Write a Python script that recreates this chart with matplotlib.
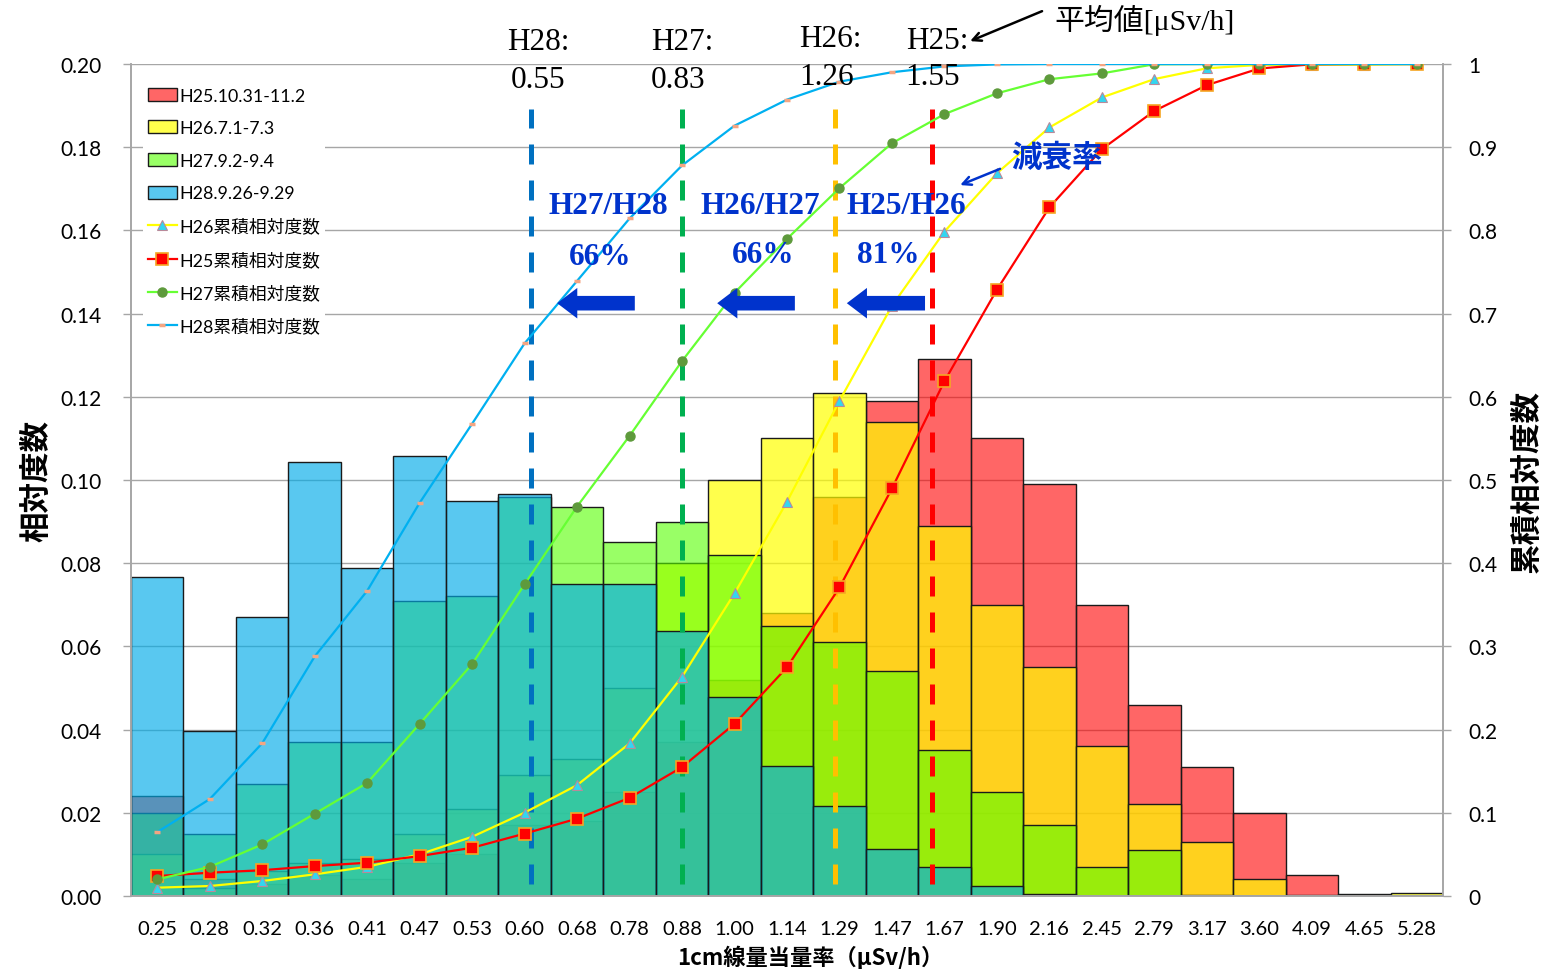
import matplotlib
matplotlib.use("Agg")
import matplotlib.pyplot as plt
import numpy as np
from matplotlib.patches import Patch
from matplotlib.ticker import FuncFormatter

# ---- data -------------------------------------------------------------
categories = ["0.25", "0.28", "0.32", "0.36", "0.41", "0.47", "0.53", "0.60",
              "0.68", "0.78", "0.88", "1.00", "1.14", "1.29", "1.47", "1.67",
              "1.90", "2.16", "2.45", "2.79", "3.17", "3.60", "4.09", "4.65",
              "5.28"]

# relative frequency per dose-rate class
h25_freq = [0.024, 0.004, 0.003, 0.005, 0.004, 0.008, 0.010, 0.017, 0.018,
            0.025, 0.037, 0.052, 0.068, 0.096, 0.119, 0.129, 0.110, 0.099,
            0.070, 0.046, 0.031, 0.020, 0.005, 0.0004, 0.0]
h26_freq = [0.010, 0.002, 0.006, 0.008, 0.009, 0.015, 0.021, 0.029, 0.033,
            0.050, 0.080, 0.100, 0.110, 0.121, 0.114, 0.089, 0.070, 0.055,
            0.036, 0.022, 0.013, 0.004, 0.0003, 0.0, 0.0008]
h27_freq = [0.020, 0.015, 0.027, 0.037, 0.037, 0.071, 0.072, 0.096, 0.0935,
            0.085, 0.090, 0.082, 0.065, 0.061, 0.054, 0.035, 0.025, 0.017,
            0.007, 0.011, 0.0003, 0.0, 0.0, 0.0, 0.0]
h28_freq = [0.0767, 0.0397, 0.0671, 0.1043, 0.0788, 0.1058, 0.0950, 0.0966,
            0.075, 0.075, 0.0637, 0.0478, 0.0313, 0.0216, 0.0113, 0.0070,
            0.0024, 0.0005, 0.0, 0.0, 0.0, 0.0, 0.0, 0.0, 0.0]

period_labels = ["H25.10.31-11.2", "H26.7.1-7.3", "H27.9.2-9.4", "H28.9.26-9.29"]
cum_labels = ["H26累積相対度数", "H25累積相対度数", "H27累積相対度数", "H28累積相対度数"]

mean_years = ["H28:", "H27:", "H26:", "H25:"]
mean_values = ["0.55", "0.83", "1.26", "1.55"]
ratio_labels = ["H27/H28", "H26/H27", "H25/H26"]
ratio_values = ["66%", "66%", "81%"]

# ---- styling ----------------------------------------------------------
plt.rcParams['font.family'] = ['Lato', 'Noto Sans CJK JP', 'DejaVu Sans']
SERIF = ['Liberation Serif', 'Noto Sans CJK JP', 'DejaVu Sans']
CJK = ['Noto Sans CJK JP', 'DejaVu Sans']
NAVY = '#0033CC'

bar_colors = [(1.0, 0.0, 0.0, 0.6),              # H25
              (1.0, 1.0, 0.0, 0.7),              # H26
              (85 / 255, 1.0, 0.0, 0.6),         # H27
              (0.0, 171 / 255, 232 / 255, 0.65)]  # H28

fig = plt.figure(figsize=(15.47, 9.70), dpi=100)
ax = fig.add_axes([131 / 1547, 73 / 970, (1443 - 131) / 1547, (897 - 65) / 970])
ax2 = ax.twinx()

x = np.arange(len(categories))

# overlapping (not stacked) histograms
for freq, col in zip([h25_freq, h26_freq, h27_freq, h28_freq], bar_colors):
    ax.bar(x, freq, width=1.0, facecolor=col, edgecolor='#1a1a1a',
           linewidth=1.0, zorder=2)

# mean-value markers
mean_x = [7.12, 10.0, 12.91, 14.76]
mean_colors = ['#0070C0', '#00B050', '#FFC000', '#FF0000']
for mx, mc in zip(mean_x, mean_colors):
    ax.axvline(mx, ymin=0.014, ymax=0.946, color=mc, lw=3.6,
               dashes=(4, 3.2), zorder=3)

ax.set_xlim(-0.5, len(categories) - 0.5)
ax.set_ylim(0, 0.20)
ax.set_yticks(np.arange(0, 0.2001, 0.02))
ax.yaxis.set_major_formatter(FuncFormatter(lambda v, p: f"{v:.2f}"))
ax.set_xticks(x)
ax.set_xticklabels(categories)
ax.set_axisbelow(True)
ax.yaxis.grid(True, color='#A6A6A6', lw=1.0)
ax.tick_params(axis='x', length=0, pad=17, labelsize=14.5)
ax.tick_params(axis='y', length=6, width=1, color='#A6A6A6', pad=15,
               labelsize=15)

# cumulative curves
cum = {k: np.cumsum(f) / np.sum(f) for k, f in
       zip(["h25", "h26", "h27", "h28"], [h25_freq, h26_freq, h27_freq, h28_freq])}

l26, = ax2.plot(x, cum["h26"], color='#FFFF00', lw=1.6, marker='^', ms=7,
                mfc='#33D6F0', mec='#B98A9A', mew=0.8, zorder=4)
l25, = ax2.plot(x, cum["h25"], color='#FF0000', lw=1.6, marker='s', ms=8,
                mfc='#FF0000', mec='#F5A623', mew=1.2, zorder=5)
l27, = ax2.plot(x, cum["h27"], color='#66FF33', lw=1.6, marker='o', ms=6.5,
                mfc='#5E9A3C', mec='#5E9A3C', zorder=6)
l28, = ax2.plot(x, cum["h28"], color='#00B0F0', lw=1.6, marker='_', ms=5,
                mew=2.5, mec='#F4A582', zorder=7)

ax2.set_ylim(0, 1)
ax2.set_yticks(np.arange(0, 1.001, 0.1))
ax2.yaxis.set_major_formatter(
    FuncFormatter(lambda v, p: "0" if abs(v) < 1e-9 else ("1" if abs(v - 1) < 1e-9 else f"{v:.1f}")))
ax2.tick_params(axis='y', length=6, width=1, color='#A6A6A6', pad=12,
                labelsize=15)

for a in (ax, ax2):
    a.spines['top'].set_visible(False)
    for s in ('left', 'right', 'bottom'):
        a.spines[s].set_color('#A6A6A6')
        a.spines[s].set_linewidth(1.2)

ax.set_ylabel("相対度数", family=CJK, fontsize=22, fontweight='bold', labelpad=6)
ax2.set_ylabel("累積相対度数", family=CJK, fontsize=22, fontweight='bold',
               rotation=90, labelpad=10)
ax.set_xlabel("1cm線量当量率（μSv/h）", family=CJK, fontsize=16,
              fontweight='bold')
ax.xaxis.set_label_coords(0.518, -0.058)

# legend
handles = [Patch(facecolor=c, edgecolor='#1a1a1a', linewidth=1.0) for c in bar_colors]
handles += [l26, l25, l27, l28]
labels = period_labels + cum_labels
leg = ax2.legend(handles, labels, loc='upper left', bbox_to_anchor=(0.009, 0.978),
                 frameon=True, facecolor='white', edgecolor='none', framealpha=1,
                 prop={'family': ['Lato', 'Noto Sans CJK JP'], 'size': 12.8},
                 handlelength=1.6, handleheight=0.75, handletextpad=0.15,
                 labelspacing=0.93, borderpad=0.3, borderaxespad=0.0)
leg.set_zorder(20)

# mean values along the top
T = ax.transData
year_xy = [(7.26, 0.2053), (10.0, 0.2053), (12.82, 0.2061), (14.86, 0.2056)]
val_xy = [(7.26, 0.1963), (9.92, 0.1963), (12.76, 0.1970), (14.78, 0.1970)]
for (yx, yy), (vx, vy), yl, vl in zip(year_xy, val_xy, mean_years, mean_values):
    ax2.text(yx, yy, yl, transform=T, family=SERIF, fontsize=22.5,
             ha='center', va='center', zorder=30)
    ax2.text(vx, vy, vl, transform=T, family=SERIF, fontsize=22.5,
             ha='center', va='center', zorder=30)

ax2.text(17.10, 0.2106, "平均値[μSv/h]", transform=T, family=SERIF,
         fontsize=21.5, ha='left', va='center', zorder=30)
ax2.annotate('', xy=(15.49, 0.2055), xytext=(16.86, 0.2127),
             xycoords=T, textcoords=T,
             arrowprops=dict(arrowstyle='->,head_length=0.6,head_width=0.3',
                             color='black', lw=1.8, shrinkA=0, shrinkB=0),
             annotation_clip=False, zorder=30)

# year-over-year decay ratios
ratio_xy = [(8.59, 0.1659), (11.49, 0.1659), (14.27, 0.1659)]
pct_xy = [(8.44, 0.1538), (11.54, 0.1543), (13.92, 0.1543)]
for (rx, ry), (px, py), rl, pl in zip(ratio_xy, pct_xy, ratio_labels, ratio_values):
    ax2.text(rx, ry, rl, transform=T, family=SERIF, fontsize=22.5,
             fontweight='bold', color=NAVY, ha='center', va='center', zorder=30)
    ax2.text(px, py, pl, transform=T, family=SERIF, fontsize=22.5,
             fontweight='bold', color=NAVY, ha='center', va='center', zorder=30)

arrow_spans = [(9.10, 7.62), (12.15, 10.67), (14.63, 13.14)]
for tail, tip in arrow_spans:
    ax2.annotate('', xy=(tip, 0.1425), xytext=(tail, 0.1425),
                 xycoords=T, textcoords=T,
                 arrowprops=dict(arrowstyle='simple,head_length=1.45,head_width=2.2,tail_width=1.05',
                                 mutation_scale=10, fc=NAVY, ec='none',
                                 shrinkA=0, shrinkB=0), zorder=30)

ax2.text(17.14, 0.1776, "減衰率", transform=T, family=CJK, fontsize=22,
         fontweight='bold', color=NAVY, ha='center', va='center', zorder=30)
ax2.annotate('', xy=(15.30, 0.1709), xytext=(16.06, 0.1748),
             xycoords=T, textcoords=T,
             arrowprops=dict(arrowstyle='->,head_length=0.6,head_width=0.3',
                             color=NAVY, lw=1.8, shrinkA=0, shrinkB=0), zorder=30)

fig.savefig("out.png", dpi=100)
